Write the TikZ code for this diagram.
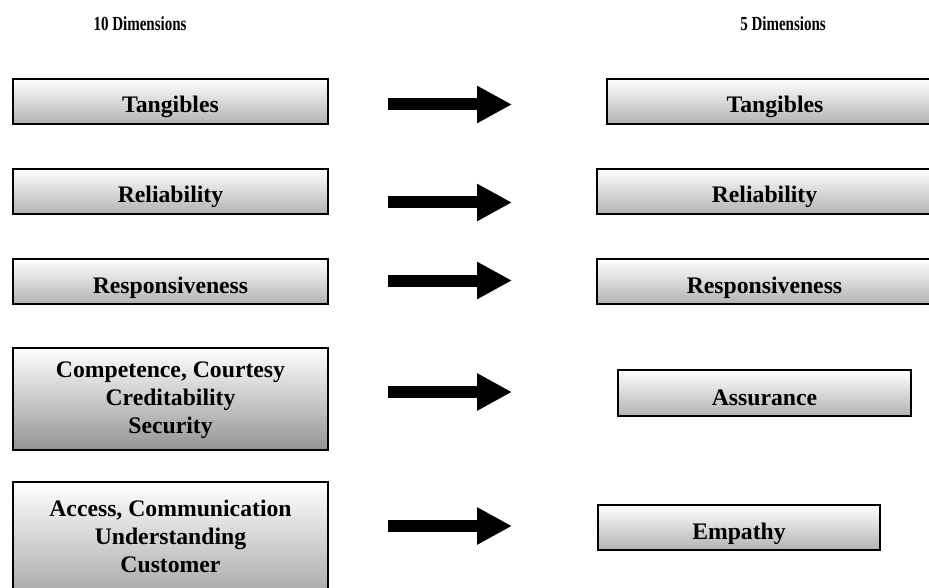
\documentclass[tikz,border=0pt]{standalone}
\usepackage{fontspec}
\usepackage{graphicx}
\setmainfont{Liberation Serif}
\usetikzlibrary{arrows.meta}

\tikzset{
  dimbox/.style={draw=black, line width=2pt, top color=white, bottom color=black!30,
    inner sep=0pt, anchor=north west, minimum height=45pt},
  tallbox/.style={bottom color=black!42},
  dimtext/.style={font=\bfseries\fontsize{23.7}{28}\selectfont, align=center,
    inner sep=0pt, anchor=base},
  heading/.style={font=\bfseries\fontsize{20}{24}\selectfont, inner sep=0pt, anchor=base}
}
\tikzset{fatarrow/.style={line width=12pt, -{Triangle[length=35pt, width=35pt]}}}
\newcommand{\narrow}[1]{\scalebox{0.75}[1]{#1}}

\begin{document}
\begin{tikzpicture}[x=1pt, y=-1pt]
    \useasboundingbox (0,0) rectangle (929,588);
    \clip (0,0) rectangle (929,588);
    % headings
    \node[heading] (h10) at (140,31) {\narrow{10 Dimensions}};
    \node[heading] (h5) at (783,31) {\narrow{5 Dimensions}};
    % ten dimensions
    \node[dimbox, minimum width=315pt] (l1) at (12,78) {};
    \node[dimbox, minimum width=315pt] (l2) at (12,168) {};
    \node[dimbox, minimum width=315pt] (l3) at (12,258) {};
    \node[dimbox, tallbox, minimum width=315pt, minimum height=102pt] (l4) at (12,347) {};
    \node[dimbox, tallbox, minimum width=315pt, minimum height=140pt] (l5) at (12,481) {};
    \node[dimtext] (t1) at ([yshift=12pt]l1.south) {Tangibles};
    \node[dimtext] (t2) at ([yshift=12pt]l2.south) {Reliability};
    \node[dimtext] (t3) at ([yshift=12pt]l3.south) {Responsiveness};
    \node[dimtext] (t4) at ([yshift=-86pt]l4.north) {Competence, Courtesy\\Creditability\\Security};
    \node[dimtext] (t5) at ([yshift=-91pt]l5.north) {Access, Communication\\Understanding\\Customer};
    % five dimensions
    \node[dimbox, minimum width=336pt] (r1) at (606,78) {};
    \node[dimbox, minimum width=335pt] (r2) at (596,168) {};
    \node[dimbox, minimum width=335pt] (r3) at (596,258) {};
    \node[dimbox, minimum width=293pt, minimum height=46pt] (r4) at (617,369) {};
    \node[dimbox, minimum width=282pt] (r5) at (597,504) {};
    \node[dimtext] (s1) at ([yshift=12pt]r1.south) {Tangibles};
    \node[dimtext] (s2) at ([yshift=12pt]r2.south) {Reliability};
    \node[dimtext] (s3) at ([yshift=12pt]r3.south) {Responsiveness};
    \node[dimtext] (s4) at ([yshift=12pt]r4.south) {Assurance};
    \node[dimtext] (s5) at ([yshift=12pt]r5.south) {Empathy};
    % arrows
    \coordinate (a1s) at (388,104.5); \coordinate (a1e) at (512,104.5);
    \coordinate (a2s) at (388,202.5); \coordinate (a2e) at (512,202.5);
    \coordinate (a3s) at (388,280.5); \coordinate (a3e) at (512,280.5);
    \coordinate (a4s) at (388,392);   \coordinate (a4e) at (512,392);
    \coordinate (a5s) at (388,526);   \coordinate (a5e) at (512,526);
    \draw[fatarrow] (a1s) -- (a1e);
    \draw[fatarrow] (a2s) -- (a2e);
    \draw[fatarrow] (a3s) -- (a3e);
    \draw[fatarrow] (a4s) -- (a4e);
    \draw[fatarrow] (a5s) -- (a5e);
\end{tikzpicture}
\end{document}
